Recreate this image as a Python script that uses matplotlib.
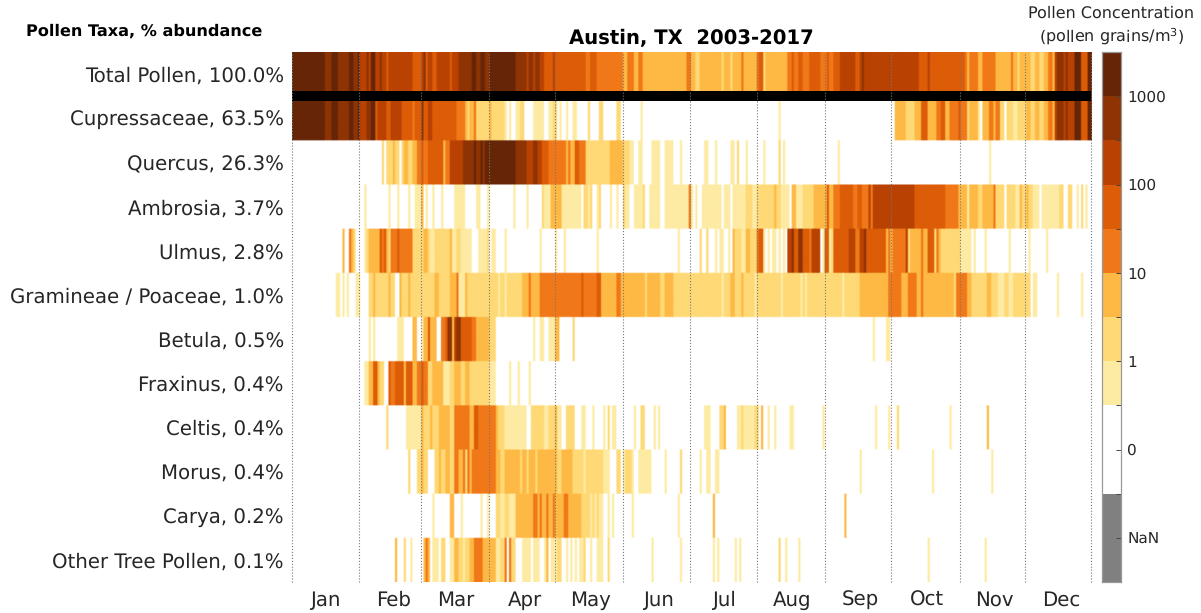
import numpy as np
import matplotlib
matplotlib.use('Agg')
import matplotlib.pyplot as plt
from matplotlib.colors import ListedColormap, BoundaryNorm

plt.rcParams['text.hinting'] = 'no_hinting'

W, H = 1201, 613
n_days = 365

##Labels
taxa = ['Total Pollen, 100.0%', 'Cupressaceae, 63.5%', 'Quercus, 26.3%', 'Ambrosia, 3.7%',
        'Ulmus, 2.8%', 'Gramineae / Poaceae, 1.0%', 'Betula, 0.5%', 'Fraxinus, 0.4%',
        'Celtis, 0.4%', 'Morus, 0.4%', 'Carya, 0.2%', 'Other Tree Pollen, 0.1%']
months = ['Jan', 'Feb', 'Mar', 'Apr', 'May', 'Jun', 'Jul', 'Aug', 'Sep', 'Oct', 'Nov', 'Dec']
month_edges = [0, 31, 59.3, 90.3, 120.5, 151.5, 182, 212.5, 243.6, 273.8, 305, 335, 365]
month_ticks = [15.5, 46.8, 75.1, 106.5, 136.6, 167.5, 197.6, 228.6, 259.6, 290.3, 321, 351.6]
cbar_labels = ['NaN', '0', '1', '10', '100', '1000']

##Concentration class per day of year, as (first day, class): holds until the next entry
total = [(0,8),(15,7),(18,8),(21,7),(26,8),(28,7),(30,8),(31,6),(34,7),(35,6),(36,8),(38,6),(40,7),(41,6),
         (43,5),(44,6),(55,5),(59,6),(60,7),(61,5),(62,6),(64,5),(66,6),(72,5),(73,6),(76,7),(82,8),(84,7),
         (86,8),(88,7),(90,8),(102,7),(107,6),(108,7),(110,6),(111,7),(113,6),(115,5),(119,6),(120,5),
         (134,4),(136,5),(139,4),(151,3),(153,4),(156,3),(158,4),(160,3),(180,4),(182,3),(184,2),(186,3),
         (196,2),(197,3),(200,2),(201,3),(205,4),(206,3),(212,4),(213,5),(215,2),(216,3),(226,4),(228,5),
         (229,4),(231,5),(233,4),(236,5),(241,4),(244,5),(245,4),(247,5),(250,6),(257,5),(259,6),(260,7),
         (261,6),(286,5),(290,6),(291,5),(304,5),(307,4),(308,3),(309,4),(313,3),(315,4),(321,3),(328,4),
         (329,3),(331,2),(332,3),(337,2),(339,3),(341,2),(343,3),(345,4),(347,3),(348,6),(349,7),(352,6),
         (353,7),(354,6),(357,8),(360,5),(363,8)]
cupressaceae = [(0,8),(15,7),(18,8),(21,7),(26,8),(28,7),(30,8),(31,6),(34,7),(36,8),(38,5),(39,6),(43,5),
                (45,6),(50,5),(55,4),(56,5),(59,7),(60,5),(62,6),(64,5),(75,4),(79,3),(80,2),(81,3),(83,4),
                (84,2),(90,3),(91,2),(97,1),(98,0),(99,1),(100,0),(102,1),(104,2),(106,0),(110,1),(115,0),
                (117,1),(119,2),(121,0),(122,1),(123,0),(125,1),(126,0),(128,1),(130,0),(135,2),(136,0),
                (140,2),(142,0),(148,2),(150,0),(159,1),(160,0),(222,1),(223,0),(275,3),(280,2),(284,3),
                (287,5),(290,3),(294,4),(296,5),(298,3),(300,4),(304,5),(305,4),(308,2),(309,3),(313,1),
                (314,0),(315,3),(318,4),(320,3),(321,4),(323,2),(325,0),(326,2),(329,1),(331,2),(335,3),
                (337,2),(339,3),(341,2),(343,3),(345,4),(347,3),(348,6),(349,7),(352,6),(353,7),(354,6),
                (357,8),(360,5),(363,8)]
quercus = [(41,2),(42,0),(43,2),(46,3),(47,2),(49,0),(50,2),(51,3),(53,2),(55,3),(57,4),(59,5),(60,4),(62,5),
           (69,3),(70,4),(72,6),(78,7),(83,8),(84,7),(86,8),(87,7),(88,8),(102,7),(107,6),(110,7),(112,6),
           (114,5),(117,4),(125,3),(126,4),(127,3),(129,5),(131,4),(134,2),(145,3),(149,3),(151,2),(154,1),
           (156,0),(158,1),(160,0),(164,1),(168,0),(170,1),(174,0),(177,1),(178,0),(188,1),(190,0),(193,1),
           (194,0),(200,1),(202,0),(203,2),(204,0),(207,1),(208,0),(215,1),(216,0),(222,2),(223,0),(224,1),
           (225,0),(249,1),(250,0),(318,1),(319,0)]
ambrosia = [(33,1),(34,0),(44,1),(45,0),(48,1),(49,0),(53,1),(54,0),(56,1),(59,3),(60,0),(61,1),(62,0),(64,1),
            (65,0),(68,1),(69,0),(74,1),(79,0),(84,1),(86,0),(89,1),(90,0),(101,1),(102,0),(107,1),(108,0),
            (114,2),(115,1),(118,3),(121,3),(123,1),(128,1),(132,0),(133,2),(135,1),(136,2),(137,0),(139,1),
            (140,2),(141,0),(145,1),(146,0),(148,1),(149,0),(151,2),(152,1),(154,0),(156,1),(160,2),(161,0),
            (163,1),(168,0),(170,1),(174,1),(181,4),(182,1),(183,0),(184,1),(185,0),(187,1),(196,0),
            (197,1),(200,0),(201,1),(204,1),(207,2),(210,1),(212,2),(220,3),(221,2),(223,1),(227,0),(228,3),
            (230,1),(233,2),(238,3),(244,5),(245,3),(247,4),(250,5),(252,5),(256,4),(258,5),(260,4),(263,6),
            (264,4),(265,6),(284,5),(298,4),(304,3),(308,1),(309,3),(313,2),(315,3),(320,4),(321,2),(325,0),
            (326,2),(330,1),(332,3),(333,2),(335,3),(336,2),(338,1),(341,0),(342,1),(350,2),(352,0),(354,2),
            (356,0),(358,1),(359,0),(360,2),(361,0),(362,1),(363,0)]
ulmus = [(23,3),(24,0),(26,4),(27,3),(28,2),(29,0),(33,1),(34,2),(35,3),(40,5),(41,4),(42,5),(43,3),(44,2),
         (45,4),(48,5),(49,4),(55,2),(60,3),(62,2),(63,1),(65,2),(72,3),(73,1),(75,2),(77,1),(82,0),(85,1),
         (86,1),(89,2),(90,0),(91,1),(93,0),(97,1),(98,0),(113,1),(114,0),(120,1),(121,0),(124,1),(125,0),
         (139,1),(140,0),(176,1),(177,0),(186,2),(187,0),(189,2),(190,0),(193,1),(194,0),(195,1),(197,0),
         (199,1),(200,0),(201,3),(202,2),(205,1),(207,3),(209,2),(212,4),(213,5),(215,1),(216,0),(217,1),
         (218,0),(219,1),(221,0),(222,1),(223,0),(224,1),(225,0),(226,6),(228,7),(229,5),(231,7),(233,5),
         (236,4),(237,6),(241,0),(242,1),(243,5),(245,1),(246,2),(247,5),(254,6),(257,4),(259,6),(261,7),
         (262,5),(271,3),(272,4),(273,3),(274,4),(280,6),(281,2),(282,3),(287,4),(288,3),(290,5),(293,2),
         (294,4),(295,3),(296,2),(305,1),(310,0),(311,1),(312,0),(316,1),(317,0),(327,1),(328,0),(336,1),
         (337,0),(344,1),(345,0)]
gramineae = [(20,1),(22,0),(23,1),(24,0),(25,1),(26,0),(29,1),(31,0),(35,2),(37,3),(38,2),(44,3),(45,2),
             (47,0),(49,3),(50,2),(53,3),(54,2),(65,3),(67,2),(72,3),(75,4),(76,1),(79,3),(80,2),(94,1),
             (95,2),(97,1),(98,2),(102,2),(105,3),(108,4),(109,3),(113,4),(132,5),(133,4),(139,5),(141,3),
             (148,4),(150,3),(161,2),(162,3),(168,2),(170,3),(174,2),(196,1),(197,2),(200,3),(202,2),(205,3),
             (206,2),(211,1),(212,2),(223,1),(224,2),(232,1),(233,2),(234,1),(235,2),(251,1),(252,2),(259,3),
             (272,4),(278,3),(281,4),(285,3),(287,4),(288,3),(302,2),(303,4),(308,3),(310,2),(317,3),(319,2),
             (322,1),(325,2),(327,1),(329,2),(337,0),(338,1),(340,0),(349,1),(350,0),(360,1),(361,0)]
betula = [(35,1),(36,0),(37,1),(38,0),(48,1),(51,0),(55,3),(57,0),(59,1),(60,3),(62,5),(63,3),(66,0),(68,4),
          (70,5),(71,7),(73,3),(74,6),(75,7),(77,5),(82,4),(84,3),(90,2),(93,0),(110,1),(111,0),(113,1),
          (115,0),(117,1),(120,3),(122,0),(128,2),(129,0),(265,1),(266,0),(271,1),(273,0)]
fraxinus = [(33,1),(35,3),(37,5),(39,3),(40,2),(42,0),(44,5),(45,4),(47,5),(51,3),(52,5),(55,3),(57,4),(59,5),
            (60,4),(62,2),(64,3),(69,1),(72,2),(74,3),(77,2),(79,3),(81,2),(90,1),(93,0),(99,1),(100,0),
            (103,1),(104,0),(108,1),(109,0)]
celtis = [(43,2),(44,0),(52,1),(59,3),(60,2),(63,3),(64,2),(67,3),(72,2),(74,4),(81,3),(83,5),(85,4),(93,3),
          (94,2),(97,1),(107,0),(109,2),(115,1),(117,2),(120,3),(121,1),(123,0),(125,2),(129,0),(132,1),(134,0),
          (137,1),(138,0),(142,1),(143,0),(144,2),(145,0),(146,1),(148,0),(156,1),(157,0),(159,2),(161,0),
          (165,1),(166,0),(167,1),(168,0),(188,1),(191,0),(195,2),(197,3),(198,0),(203,1),(205,2),(206,1),
          (211,2),(213,0),(214,3),(215,0),(217,1),(218,0),(220,1),(221,0),(227,1),(229,0),(242,1),(243,0),
          (266,1),(267,0),(272,1),(273,0),(276,2),(277,0),(300,1),(301,0),(317,3),(318,0)]
morus = [(53,2),(54,0),(57,2),(59,3),(60,2),(62,0),(65,2),(67,3),(68,2),(70,3),(72,2),(74,4),(76,3),(78,4),(79,2),
         (80,4),(81,3),(82,4),(93,3),(95,2),(97,3),(104,2),(105,3),(107,2),(108,3),(111,2),(112,3),(121,2),
         (123,3),(128,2),(133,1),(134,2),(142,1),(145,0),(148,2),(150,0),(151,1),(152,2),(155,1),(156,0),(158,1),
         (164,0),(170,1),(171,0),(177,2),(178,0),(186,1),(187,0),(189,1),(191,0),(193,1),(195,0),(259,1),
         (260,0),(292,1),(293,0),(319,1),(320,0)]
carya = [(64,1),(65,0),(72,3),(74,0),(77,1),(78,0),(86,1),(87,0),(89,1),(90,0),(93,2),(95,1),(97,2),(99,1),(102,3),
         (110,4),(112,3),(113,4),(114,3),(116,4),(117,3),(119,4),(120,3),(124,4),(126,3),(132,2),(136,1),
         (137,2),(138,1),(139,2),(140,1),(142,0),(144,1),(145,0),(146,1),(147,0),(155,1),(156,0),(176,1),
         (177,0),(192,3),(193,0),(252,3),(253,0)]
other_tree = [(47,3),(48,0),(51,2),(52,0),(54,1),(55,0),(60,3),(61,4),(62,3),(63,0),(64,1),(67,0),(68,2),(70,0),
              (72,1),(74,3),(76,2),(78,1),(79,2),(81,3),(83,4),(87,3),(93,1),(95,2),(97,4),(98,0),(99,4),(100,2),
              (102,0),(105,1),(109,0),(110,1),(113,0),(115,1),(116,3),(117,0),(118,1),(121,2),(123,0),(125,1),(126,0),
              (127,1),(128,0),(129,1),(130,0),(131,1),(133,2),(134,0),(136,1),(137,0),(139,1),(142,0),(144,2),
              (145,0),(164,1),(165,0),(177,1),(178,0),(192,1),(193,0),(194,1),(195,0),(202,1),(203,0),(204,1),
              (205,0),(222,2),(223,0),(225,1),(226,0),(231,1),(232,0),(290,1),(291,0),(316,1),(317,0)]
rows = [total, cupressaceae, quercus, ambrosia, ulmus, gramineae, betula, fraxinus, celtis, morus, carya, other_tree]

colors = ['#FFFFFF', '#FEEBA3', '#FED976', '#FEB945', '#F07818', '#DC5C07', '#B94202', '#8E3303', '#662506']
text_color = '#262626'


def expand(runs):
    y = np.zeros(n_days, dtype=int)
    for i, (start, level) in enumerate(runs):
        stop = runs[i+1][0] if i+1 < len(runs) else n_days
        y[start:stop] = level
    return y


data = np.array([expand(r) for r in rows])
cmap = ListedColormap(colors)
norm = BoundaryNorm(np.arange(-0.5, 9.5), cmap.N)

fig = plt.figure(figsize=(W/100, H/100), dpi=100)
ax = fig.add_axes([291.5/W, 1-582/H, 799.5/W, 530/H])
# rows repeated so the smoothing stays small in y as well as x
ax.imshow(np.repeat(data, 20, axis=0), cmap=cmap, norm=norm, aspect='auto', extent=(0, n_days, len(taxa), 0),
          interpolation='hanning', interpolation_stage='rgba')
ax.set_xlim(0, n_days)
ax.set_ylim(len(taxa), 0)
for s in ax.spines.values():
    s.set_visible(False)

# thick bar under the total row
ax.axhline(1, color='k', lw=7.2, zorder=3)
for e in month_edges:
    ax.axvline(e, color='#777777', lw=0.8, ls=':', zorder=4, clip_on=False)

ax.set_yticks(np.arange(len(taxa))+0.5)
ax.set_yticklabels(taxa, fontsize=14.2, color=text_color)
ax.tick_params(axis='y', length=0, pad=5.5)
ax.set_xticks(month_ticks)
ax.set_xticklabels(months, fontsize=14.2, color=text_color)
ax.tick_params(axis='x', length=0, pad=6)

fig.text(691/W, 1-38.5/H, 'Austin, TX  2003-2017', ha='center', va='center', fontsize=14.15, fontweight='bold', color='k')
fig.text(144/W, 1-31/H, 'Pollen Taxa, % abundance', ha='center', va='center', fontsize=11.6, fontweight='bold', color='k')
fig.text(1111.5/W, 1-13/H, 'Pollen Concentration', ha='center', va='center', fontsize=11.55, color=text_color)
fig.text(1111.5/W, 1-36/H, '(pollen grains/m$^3$)', ha='center', va='center', fontsize=11.55, color=text_color)

# colorbar: NaN and 0 take two steps each, the others one
cax = fig.add_axes([1101.5/W, 1-582/H, 19.5/W, 530/H])
cb_edges = [0, 2, 4, 5, 6, 7, 8, 9, 10, 11, 12]
cb_colors = ['#808080'] + colors
cax.pcolormesh([0, 1], cb_edges, np.arange(10).reshape(-1, 1), cmap=ListedColormap(cb_colors), vmin=-0.5, vmax=9.5)
cax.set_xticks([])
cax.set_xlim(0, 1)
cax.set_ylim(0, 12)
cax.yaxis.tick_right()
cax.set_yticks(np.arange(1, 12), minor=True)
cax.set_yticks([1, 3, 5, 7, 9, 11])
cax.set_yticklabels(cbar_labels, fontsize=11, color=text_color)
cax.tick_params(axis='y', which='both', direction='in', length=3.5, width=0.7, color='#444444', pad=4.5)
for s in cax.spines.values():
    s.set_color('#999999')
    s.set_linewidth(0.9)

fig.savefig('out.png', dpi=100)
